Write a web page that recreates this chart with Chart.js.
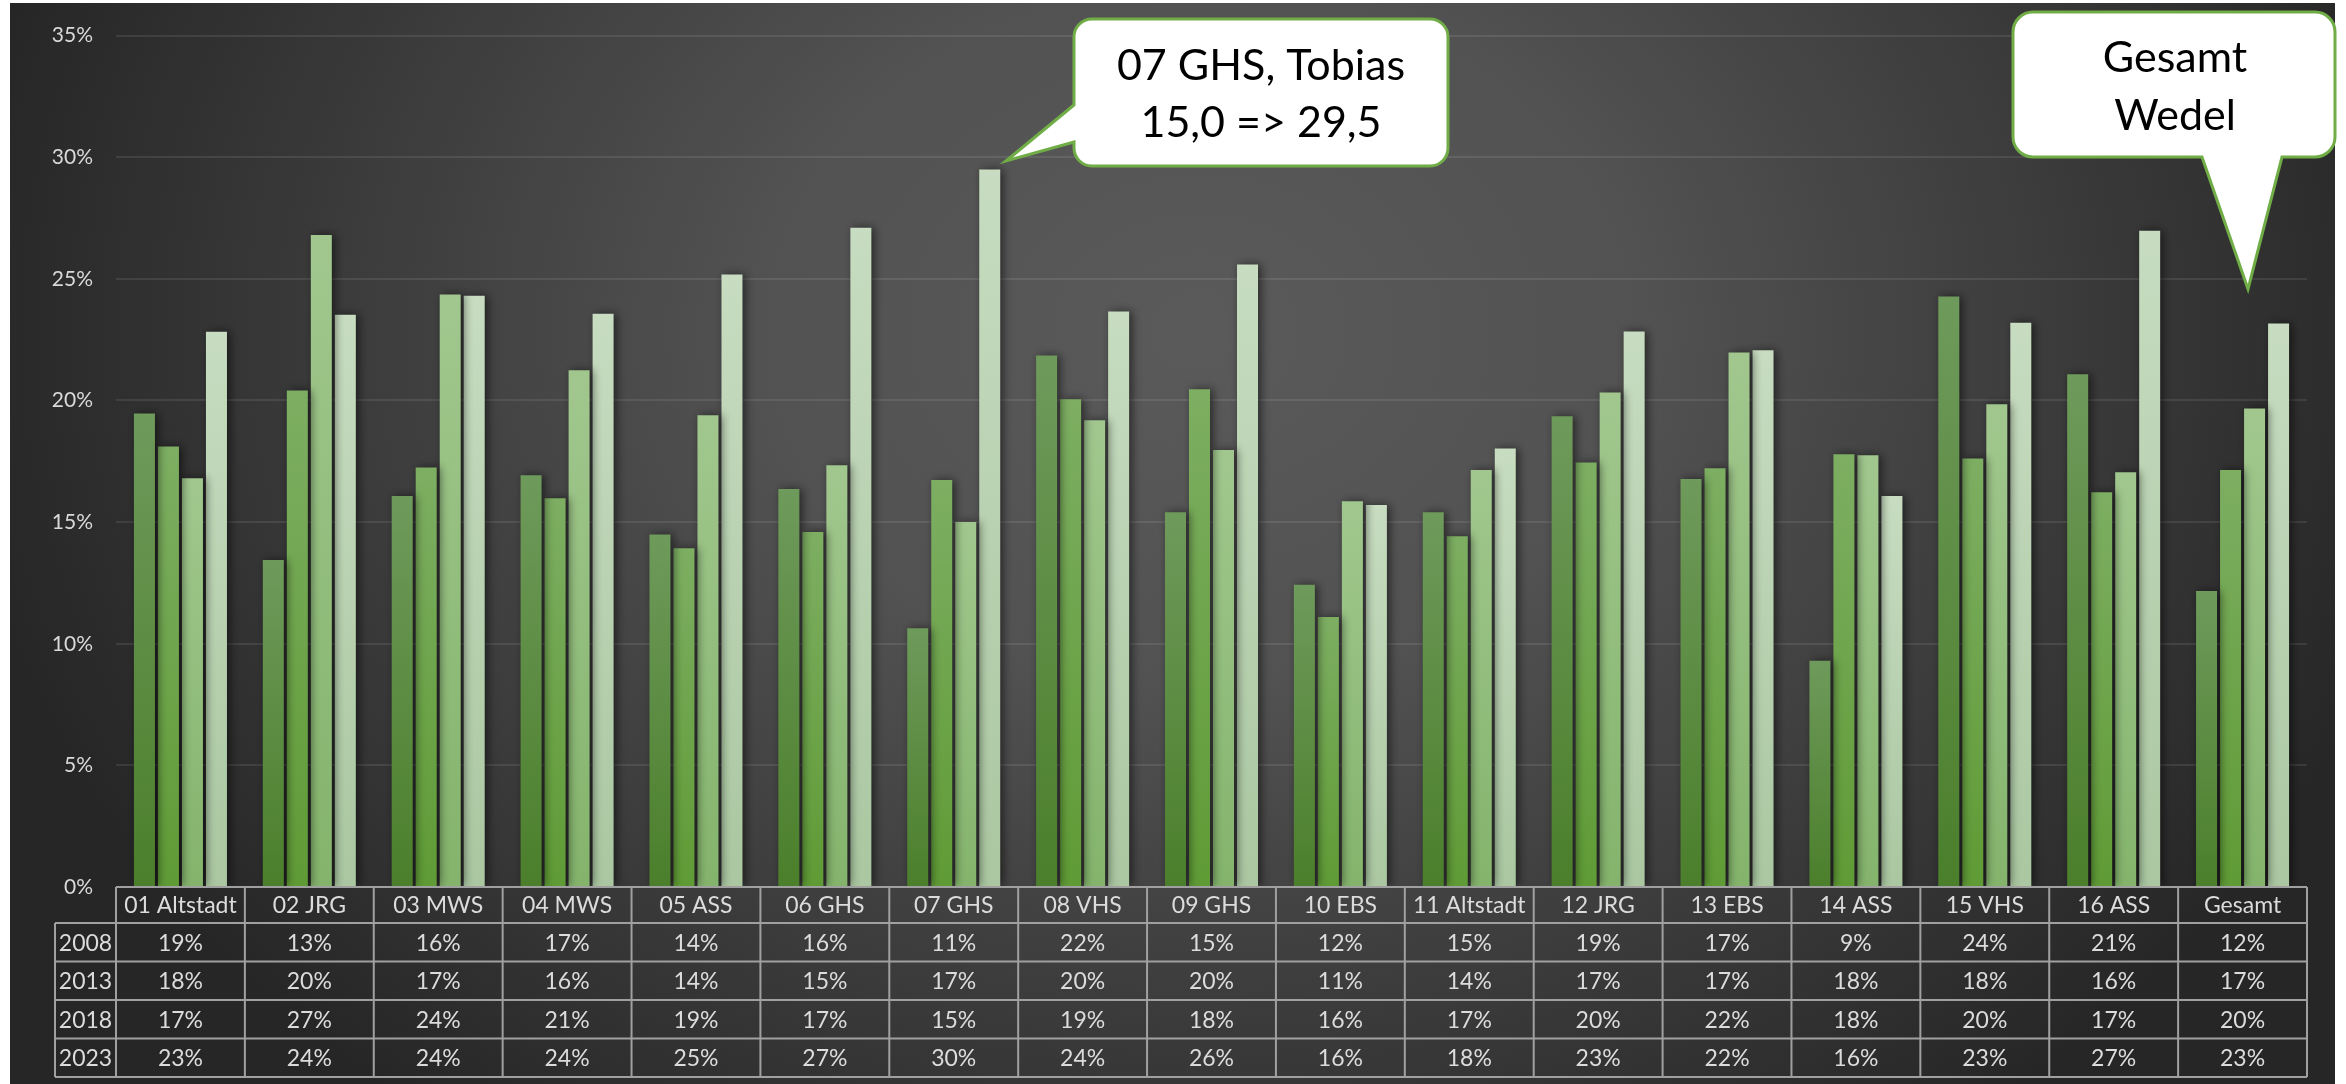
<!DOCTYPE html>
<html>
<head>
<meta charset="utf-8">
<script src="https://cdn.jsdelivr.net/npm/chart.js@4.4.1/dist/chart.umd.min.js"></script>
<style>
  html, body { margin: 0; padding: 0; background: #ffffff; }
  #wrap { width: 2346px; height: 1084px; position: relative; }
  canvas { display: block; }
</style>
</head>
<body>
<div id="wrap"><canvas id="c" width="2346" height="1084"></canvas></div>
<script>
// ---- data ----
const categories = ['01 Altstadt','02 JRG','03 MWS','04 MWS','05 ASS','06 GHS','07 GHS','08 VHS','09 GHS','10 EBS','11 Altstadt','12 JRG','13 EBS','14 ASS','15 VHS','16 ASS','Gesamt'];
const seriesNames = ['2008','2013','2018','2023'];
const values2008 = [19.47, 13.44, 16.07, 16.93, 14.49, 16.36, 10.64, 21.85, 15.41, 12.42, 15.41, 19.35, 16.77, 9.30, 24.27, 21.08, 12.17];
const values2013 = [18.11, 20.41, 17.25, 15.98, 13.93, 14.59, 16.73, 20.05, 20.46, 11.10, 14.42, 17.45, 17.21, 17.79, 17.62, 16.23, 17.14];
const values2018 = [16.80, 26.80, 24.36, 21.24, 19.39, 17.34, 15.00, 19.19, 17.96, 15.86, 17.14, 20.33, 21.97, 17.75, 19.85, 17.05, 19.67];
const values2023 = [22.83, 23.52, 24.31, 23.57, 25.18, 27.10, 29.50, 23.66, 25.59, 15.70, 18.03, 22.84, 22.06, 16.07, 23.20, 26.98, 23.16];
const yTicks = [0, 5, 10, 15, 20, 25, 30, 35];
const callout1Lines = ['07 GHS, Tobias', '15,0 => 29,5'];
const callout2Lines = ['Gesamt', 'Wedel'];

// ---- styles ----
const seriesValues = [values2008, values2013, values2018, values2023];
const barTop = ['#6e9a5b', '#7dae62', '#a1c78e', '#c7dcc0'];
const barBottom = ['#4b7f2b', '#5f9b35', '#84b46c', '#aac7a1'];
const FONT = 'Lato, "Open Sans", sans-serif';

function barColor(i) {
  return function(ctx) {
    const chart = ctx.chart;
    if (!chart.chartArea || ctx.raw == null) return barTop[i];
    const y = chart.scales.y;
    const top = y.getPixelForValue(ctx.raw);
    const bottom = y.getPixelForValue(0);
    if (!isFinite(top) || !isFinite(bottom) || top === bottom) return barTop[i];
    const g = chart.ctx.createLinearGradient(0, top, 0, bottom);
    g.addColorStop(0, barTop[i]);
    g.addColorStop(1, barBottom[i]);
    return g;
  };
}

const bgPlugin = {
  id: 'bg',
  beforeDraw(chart) {
    const c = chart.ctx;
    c.save();
    c.fillStyle = '#ffffff';
    c.fillRect(0, 0, chart.width, chart.height);
    c.save();
    c.beginPath();
    c.rect(10, 3, 2325, 1081);
    c.clip();
    c.translate(1200, 330);
    c.scale(1, 0.8);
    const g = c.createRadialGradient(0, 0, 0, 0, 0, 1250);
    g.addColorStop(0, '#5a5a5a');
    g.addColorStop(0.35, '#525252');
    g.addColorStop(1, '#262626');
    c.fillStyle = g;
    c.fillRect(-1400, -500, 2800, 1500);
    c.restore();
    c.restore();
  }
};

const shadowPlugin = {
  id: 'shadow',
  beforeDatasetsDraw(chart) {
    const c = chart.ctx;
    c.save();
    c.shadowColor = 'rgba(0,0,0,0.55)';
    c.shadowBlur = 10;
    c.shadowOffsetX = 3;
    c.shadowOffsetY = 0;
  },
  afterDatasetsDraw(chart) {
    chart.ctx.restore();
  }
};

function roundRectPath(c, x, y, w, h, r, tail) {
  c.beginPath();
  c.moveTo(x + r, y);
  c.lineTo(x + w - r, y);
  c.arcTo(x + w, y, x + w, y + r, r);
  c.lineTo(x + w, y + h - r);
  c.arcTo(x + w, y + h, x + w - r, y + h, r);
  if (tail && tail.side === 'bottom') {
    c.lineTo(tail.a[0], tail.a[1]);
    c.lineTo(tail.tip[0], tail.tip[1]);
    c.lineTo(tail.b[0], tail.b[1]);
  }
  c.lineTo(x + r, y + h);
  c.arcTo(x, y + h, x, y + h - r, r);
  if (tail && tail.side === 'left') {
    c.lineTo(tail.a[0], tail.a[1]);
    c.lineTo(tail.tip[0], tail.tip[1]);
    c.lineTo(tail.b[0], tail.b[1]);
  }
  c.lineTo(x, y + r);
  c.arcTo(x, y, x + r, y, r);
  c.closePath();
}

const tablePlugin = {
  id: 'table',
  afterDraw(chart) {
    const c = chart.ctx;
    const area = chart.chartArea;
    const n = categories.length;
    const colW = (area.right - area.left) / n;
    const headerTop = area.bottom;
    const headerBottom = headerTop + 36;
    const rowH = 38.5;
    const yearLeft = 55;
    const tableBottom = headerBottom + rowH * seriesNames.length;
    c.save();
    c.strokeStyle = '#a0a0a0';
    c.lineWidth = 2;
    c.beginPath();
    c.moveTo(area.left, headerTop); c.lineTo(area.right, headerTop);
    for (let r = 0; r <= seriesNames.length; r++) {
      const y = headerBottom + r * rowH;
      c.moveTo(yearLeft, y); c.lineTo(area.right, y);
    }
    c.moveTo(yearLeft, headerBottom); c.lineTo(yearLeft, tableBottom);
    for (let i = 0; i <= n; i++) {
      const x = area.left + i * colW;
      c.moveTo(x, headerTop); c.lineTo(x, tableBottom);
    }
    c.stroke();

    c.fillStyle = '#dcdcdc';
    c.font = '23px ' + FONT;
    c.textAlign = 'center';
    c.textBaseline = 'middle';
    for (let i = 0; i < n; i++) {
      const cx = area.left + (i + 0.5) * colW;
      c.fillText(categories[i], cx, (headerTop + headerBottom) / 2 + 1);
      for (let r = 0; r < seriesNames.length; r++) {
        const cy = headerBottom + (r + 0.5) * rowH + 1;
        c.fillText(Math.round(seriesValues[r][i]) + '%', cx, cy);
      }
    }
    for (let r = 0; r < seriesNames.length; r++) {
      const cy = headerBottom + (r + 0.5) * rowH + 1;
      c.fillText(seriesNames[r], (yearLeft + area.left) / 2, cy);
    }
    c.restore();
  }
};

const calloutPlugin = {
  id: 'callouts',
  afterDraw(chart) {
    const c = chart.ctx;
    c.save();
    c.fillStyle = '#ffffff';
    c.strokeStyle = '#70ad47';
    c.lineWidth = 3;
    c.lineJoin = 'miter';
    roundRectPath(c, 1074, 19, 374, 147, 18, {side: 'left', a: [1074, 142], tip: [1006, 161], b: [1074, 105]});
    c.fill(); c.stroke();
    roundRectPath(c, 2013, 12, 322, 145, 20, {side: 'bottom', a: [2282, 157], tip: [2248, 289], b: [2202, 157]});
    c.fill(); c.stroke();

    c.fillStyle = '#000000';
    c.font = '43px ' + FONT;
    c.textAlign = 'center';
    c.textBaseline = 'alphabetic';
    c.fillText(callout1Lines[0], 1261, 80);
    c.fillText(callout1Lines[1], 1261, 137);
    c.fillText(callout2Lines[0], 2175, 72);
    c.fillText(callout2Lines[1], 2175, 130);
    c.restore();
  }
};

const datasets = seriesNames.map((name, i) => ({
  label: name,
  data: seriesValues[i],
  backgroundColor: barColor(i),
  borderWidth: 0,
  categoryPercentage: 0.745,
  barPercentage: 0.875
}));

new Chart(document.getElementById('c'), {
  type: 'bar',
  data: { labels: categories, datasets },
  options: {
    responsive: false,
    animation: false,
    events: [],
    layout: { padding: { left: 0, top: 33, right: 39, bottom: 197 } },
    plugins: {
      legend: { display: false },
      tooltip: { enabled: false },
      title: { display: false }
    },
    scales: {
      x: {
        display: false,
        offset: true
      },
      y: {
        min: 0,
        max: 35,
        afterFit(scale) { scale.width = 116; },
        afterBuildTicks(scale) { scale.ticks = yTicks.map(v => ({ value: v })); },
        border: { display: false },
        grid: {
          color: ctx => ctx.tick && ctx.tick.value === 0 ? 'rgba(0,0,0,0)' : 'rgba(255,255,255,0.09)',
          lineWidth: 2,
          drawTicks: false
        },
        ticks: {
          color: '#d9d9d9',
          font: { family: FONT, size: 21 },
          padding: 23,
          callback: v => v + '%'
        }
      }
    }
  },
  plugins: [bgPlugin, shadowPlugin, tablePlugin, calloutPlugin]
});
</script>
</body>
</html>
